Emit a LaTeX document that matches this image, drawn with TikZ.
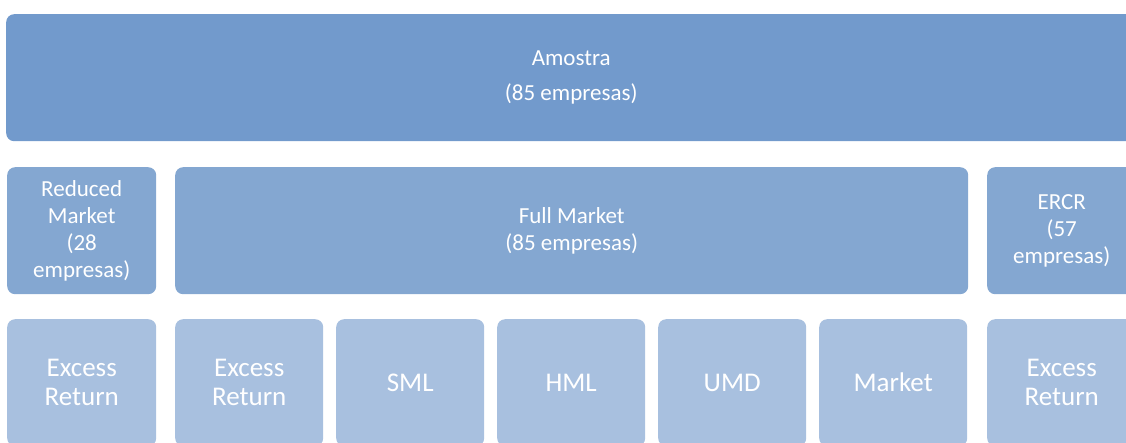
\documentclass[tikz,border=0pt]{standalone}
\usepackage{fontspec}
\setmainfont{Carlito}
\definecolor{toplevel}{RGB}{114,154,204}
\definecolor{midlevel}{RGB}{132,167,209}
\definecolor{lowlevel}{RGB}{168,192,223}

\begin{document}
\begin{tikzpicture} [
    x=1pt, y=-1pt,
    box/.style = {rounded corners=8pt, inner sep=0pt, align=center,
        text=white, anchor=north west, minimum height=127pt},
    sample/.style = {box, fill=toplevel, minimum width=1130pt,
        font=\fontsize{23}{35}\selectfont},
    market/.style = {box, fill=midlevel,
        font=\fontsize{23}{27}\selectfont},
    factor/.style = {box, fill=lowlevel, minimum width=148pt,
        font=\fontsize{27}{29}\selectfont}]
    \useasboundingbox (0,0) rectangle (1126,442);
    \clip (0,0) rectangle (1126,442);
    % \draw [help lines] (0,0) grid (1126,442);
    \node (amostra) [sample] at (6,14) {Amostra\\(85 empresas)};

    \node (reduced) [market, minimum width=149pt] at (7,167)
        {Reduced\\Market\\(28\\empresas)};
    \node (full) [market, minimum width=793pt] at (175,167)
        {Full Market\\(85 empresas)};
    \node (ercr) [market, minimum width=149pt] at (987,167)
        {ERCR\\(57\\empresas)};

    \node (r1) [factor, minimum width=149pt] at (7,319) {Excess\\Return};
    \node (f1) [factor] at (175,319) {Excess\\Return};
    \node (f2) [factor] at (336,319) {SML};
    \node (f3) [factor] at (497,319) {HML};
    \node (f4) [factor] at (658,319) {UMD};
    \node (f5) [factor] at (819,319) {Market};
    \node (e1) [factor, minimum width=149pt] at (987,319) {Excess\\Return};
\end{tikzpicture}
\end{document}
